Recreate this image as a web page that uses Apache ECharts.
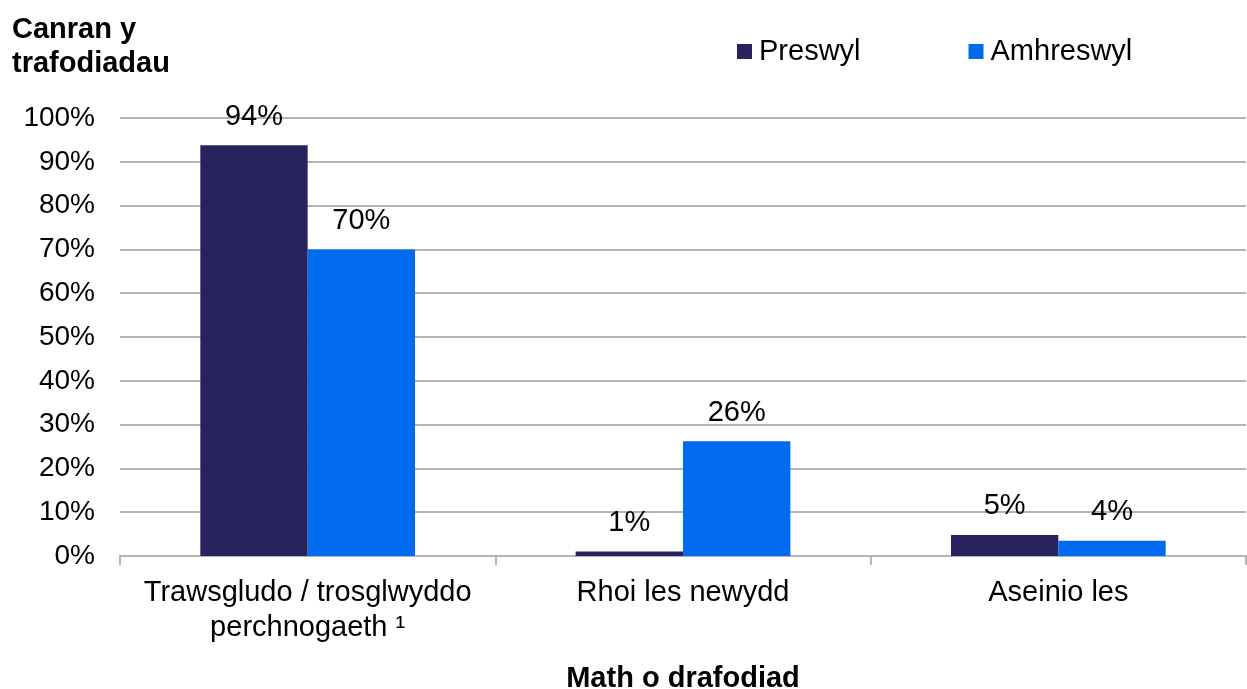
<!DOCTYPE html>
<html>
<head>
<meta charset="utf-8">
<script src="https://cdn.jsdelivr.net/npm/echarts@6/dist/echarts.min.js"></script>
<style>html,body{margin:0;padding:0;background:#fff}#c{width:1247px;height:689px}</style>
</head>
<body>
<div id="c"></div>
<script>
const categories = ['Trawsgludo / trosglwyddo\nperchnogaeth \u00B9', 'Rhoi les newydd', 'Aseinio les'];
const preswyl = [93.8, 1.0, 4.8];
const amhreswyl = [70.0, 26.2, 3.5];
const seriesNames = ['Preswyl', 'Amhreswyl'];

const FONT = '"Liberation Sans", Arial, sans-serif';
const FS = 29;
const chart = echarts.init(document.getElementById('c'));
const labelCfg = {
  show: true, position: 'top', distance: 14,
  fontSize: FS, color: '#000', fontFamily: FONT,
  formatter: p => Math.round(p.value) + '%'
};
chart.setOption({
  animation: false,
  textStyle: { fontFamily: FONT },
  title: {
    text: 'Canran y\ntrafodiadau', left: 7, top: 8,
    textStyle: { fontSize: FS, fontWeight: 'bold', color: '#000', lineHeight: 34, fontFamily: FONT }
  },
  legend: {
    left: 732, top: 32, itemWidth: 15, itemHeight: 15, itemGap: 108,
    icon: 'rect',
    textStyle: { fontSize: FS, color: '#000', fontFamily: FONT, padding: [0,0,0,2] },
    data: seriesNames
  },
  grid: { left: 120, right: 1, top: 118, bottom: 133, containLabel: false, outerBoundsMode: 'none' },
  xAxis: {
    type: 'category', data: categories,
    axisLine: { lineStyle: { color: '#b4b4b4', width: 2 } },
    axisTick: { show: true, length: 9, lineStyle: { color: '#b4b4b4', width: 2 } },
    axisLabel: { fontSize: FS, color: '#000', margin: 19, lineHeight: 35, fontFamily: FONT, interval: 0 },
    name: 'Math o drafodiad', nameLocation: 'middle', nameGap: 108,
    nameTextStyle: { fontSize: FS, fontWeight: 'bold', color: '#000', fontFamily: FONT }
  },
  yAxis: {
    type: 'value', min: 0, max: 100, interval: 10,
    axisLine: { show: false }, axisTick: { show: false },
    axisLabel: { fontSize: 28, color: '#000', margin: 25, formatter: '{value}%', fontFamily: FONT },
    splitLine: { lineStyle: { color: '#b4b4b4', width: 2 } }
  },
  series: [
    { name: seriesNames[0], type: 'bar', data: preswyl, barGap: '0%', barCategoryGap: '42.8%',
      itemStyle: { color: '#28235f' }, label: labelCfg },
    { name: seriesNames[1], type: 'bar', data: amhreswyl,
      itemStyle: { color: '#006bef' }, label: labelCfg }
  ]
});
</script>
</body>
</html>
